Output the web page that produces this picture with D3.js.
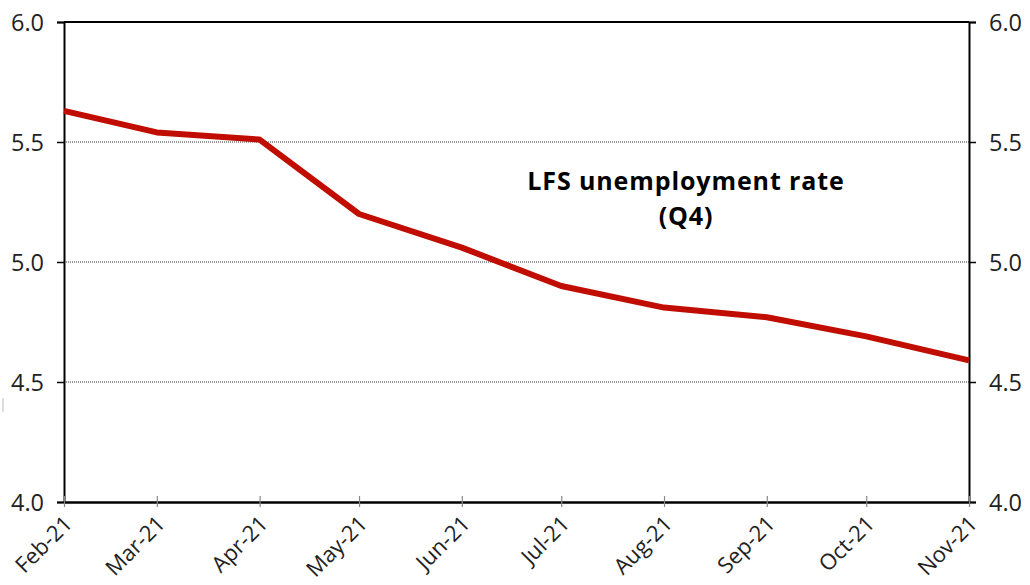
<!DOCTYPE html>
<html><head><meta charset="utf-8">
<script src="https://cdn.jsdelivr.net/npm/d3@7"></script>
<style>body{margin:0;background:#fff}svg{display:block}</style>
</head><body>
<script>
const months = ["2021-02-01","2021-03-01","2021-04-01","2021-05-01","2021-06-01","2021-07-01","2021-08-01","2021-09-01","2021-10-01","2021-11-01"];
const monthLabels = ["Feb-21","Mar-21","Apr-21","May-21","Jun-21","Jul-21","Aug-21","Sep-21","Oct-21","Nov-21"];
const rate = [5.63,5.54,5.51,5.20,5.06,4.90,4.81,4.77,4.69,4.59];
const yTicks = [4.0,4.5,5.0,5.5,6.0];
const gridTicks = [4.5,5.0,5.5];
const titleLines = ["LFS unemployment rate","(Q4)"];

const W=1030,H=585, L=64, R=969, T=22, B=502;
const font = "'Open Sans', 'Noto Sans', sans-serif";
const parse = d3.timeParse("%Y-%m-%d");
const dates = months.map(parse);
const x = d3.scaleTime().domain([dates[0], dates[dates.length-1]]).range([L,R]);
const y = d3.scaleLinear().domain([4,6]).range([B,T]);

const svg = d3.select("body").append("svg").attr("width",W).attr("height",H);

// grid
svg.append("g").selectAll("line").data(gridTicks).join("line")
  .attr("x1",L).attr("x2",R).attr("y1",d=>y(d)).attr("y2",d=>y(d))
  .attr("stroke","#000").attr("stroke-width",0.8).attr("stroke-dasharray","1,1");

// top border
svg.append("line").attr("x1",L).attr("x2",R).attr("y1",y(6)).attr("y2",y(6)).attr("stroke","#000").attr("stroke-width",2);

// left axis
const la = svg.append("g").attr("transform",`translate(${L},0)`)
  .call(d3.axisLeft(y).tickValues(yTicks).tickFormat(d3.format(".1f")).tickSize(7).tickPadding(13));
// right axis
const ra = svg.append("g").attr("transform",`translate(${R},0)`)
  .call(d3.axisRight(y).tickValues(yTicks).tickFormat(d3.format(".1f")).tickSize(7).tickPadding(13));
[la,ra].forEach(a=>{
  a.select(".domain").attr("stroke","#000").attr("stroke-width",2);
  a.selectAll(".tick line").attr("stroke","#000").attr("stroke-width",1.5);
  a.selectAll("text").attr("font-family",font).attr("font-size",23.5).attr("fill","#222").attr("dy","0.36em");
});

// bottom axis
const ba = svg.append("g").attr("transform",`translate(0,${B})`)
  .call(d3.axisBottom(x).tickValues(dates).tickFormat((d,i)=>monthLabels[i]).tickSizeInner(-6).tickSizeOuter(0));
ba.select(".domain").attr("stroke","#000").attr("stroke-width",2.5);
ba.selectAll(".tick line").attr("stroke","#888").attr("stroke-width",1.2);
ba.selectAll(".tick").append("line").attr("y1",0).attr("y2",5).attr("stroke","#888").attr("stroke-width",1.2);
ba.selectAll("text").attr("font-family",font).attr("font-size",22).attr("fill","#222")
  .attr("text-anchor","end").attr("dy",0).attr("transform","translate(7,21) rotate(-45)");

// line
svg.append("path").datum(rate)
  .attr("fill","none").attr("stroke","#c00d00").attr("stroke-width",6).attr("stroke-linejoin","round")
  .attr("d", d3.line().x((d,i)=>x(dates[i])).y(d=>y(d)));

// title
svg.append("text").attr("x",686).attr("y",190).attr("text-anchor","middle")
  .attr("font-family",font).attr("font-weight","bold").attr("font-size",25).attr("letter-spacing",0.9).attr("fill","#000")
  .selectAll("tspan").data(titleLines).join("tspan").attr("x",686).attr("dy",(d,i)=>i?35:0).text(d=>d);

// small stray mark at left
svg.append("line").attr("x1",3).attr("x2",3).attr("y1",398).attr("y2",412).attr("stroke","#bbb").attr("stroke-width",1);
</script>
</body></html>
